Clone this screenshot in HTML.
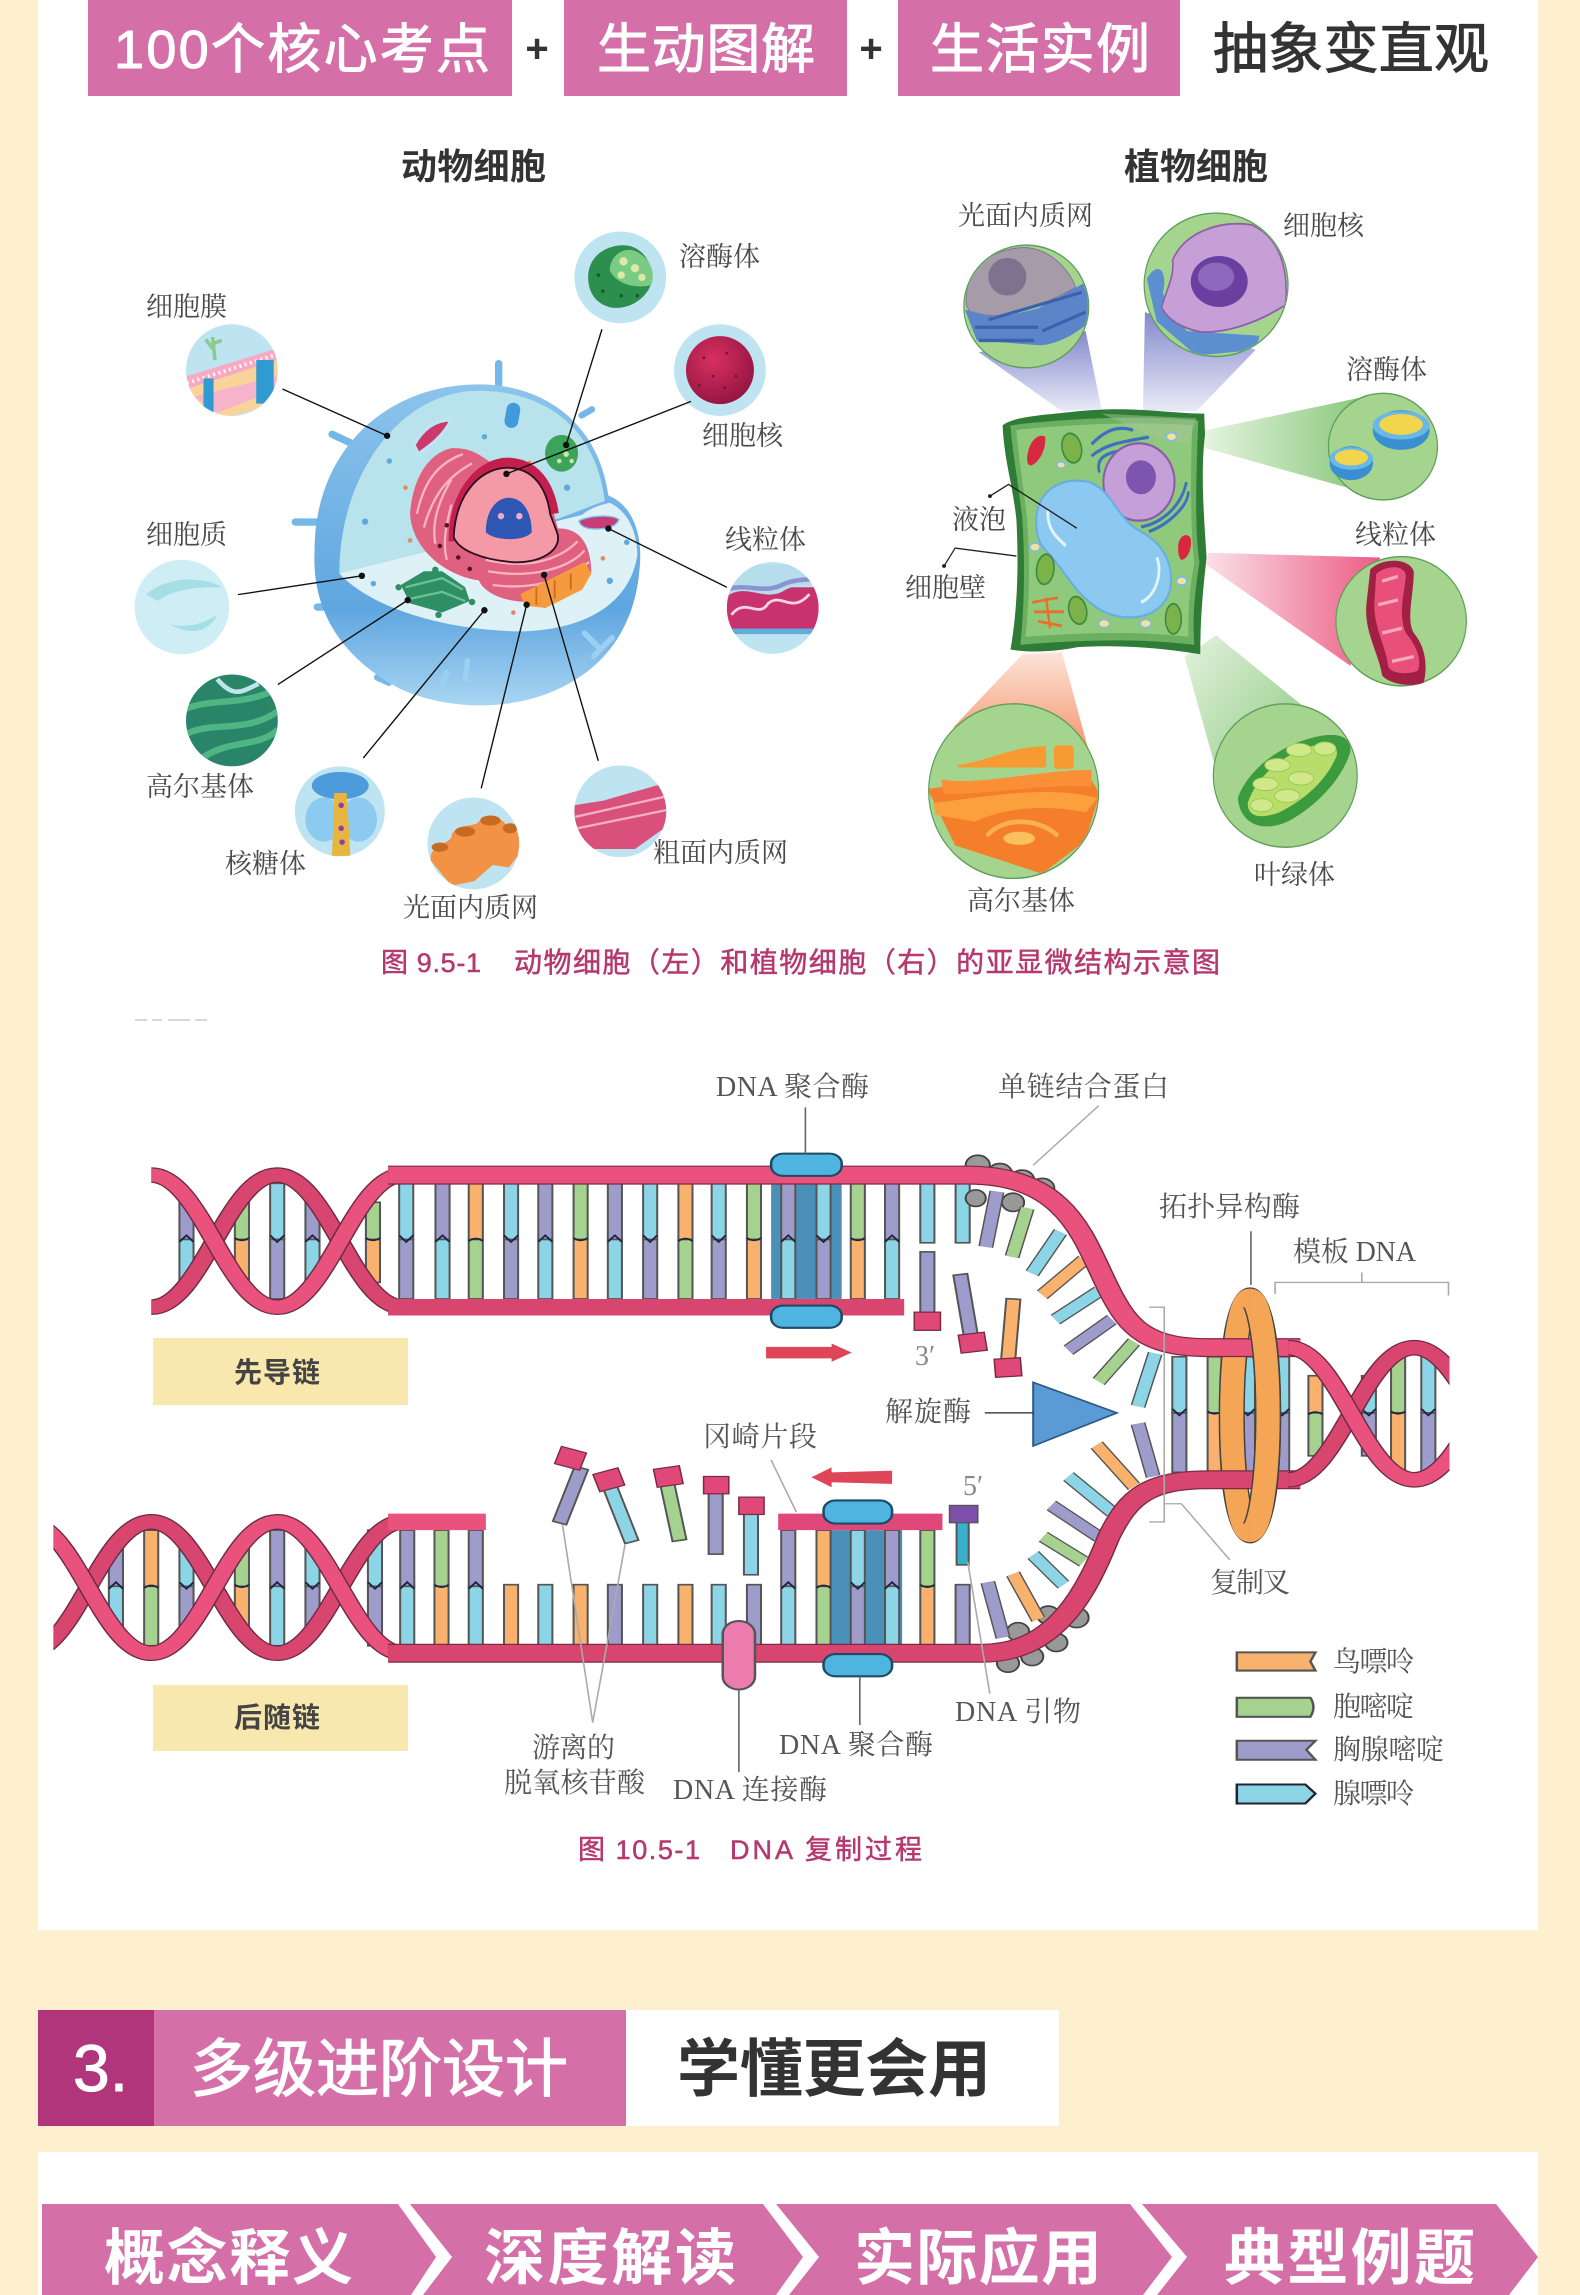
<!DOCTYPE html>
<html lang="zh"><head><meta charset="utf-8"><title>核心考点</title>
<style>
html,body{margin:0;padding:0;background:#FEEFCF}
svg{display:block}
.s{font-family:"Liberation Sans","Noto Sans CJK SC",sans-serif}
.l{font-family:"Liberation Serif","Noto Serif CJK SC",serif;fill:#4a4a4a;font-size:27px}
.d{font-family:"Liberation Serif","Noto Serif CJK SC",serif;fill:#555;font-size:28px}
.t{fill:#8CD5E6}.p{fill:#9E9CCB}.o{fill:#F9B26E}.g{fill:#A6D28F}
.b rect,.dr rect{stroke:#555;stroke-width:2}
.dr path{stroke:#1c2440;stroke-width:2;fill:none}
</style></head><body>
<svg xmlns="http://www.w3.org/2000/svg" width="1580" height="2295" viewBox="0 0 1580 2295">
<defs>
<linearGradient id="cb" x1="0" y1="0" x2="0" y2="1"><stop offset="0" stop-color="#8CC4EC"/><stop offset=".7" stop-color="#5FA6E0"/><stop offset="1" stop-color="#A9D5F2"/></linearGradient>
<linearGradient id="cone1" x1="0" y1="0" x2="0" y2="1"><stop offset="0" stop-color="#8489CC"/><stop offset="1" stop-color="#E9EAF7"/></linearGradient>
<linearGradient id="cone2" x1="1" y1="0" x2="0" y2="0"><stop offset="0" stop-color="#8CC97F"/><stop offset="1" stop-color="#E8F5E2"/></linearGradient>
<linearGradient id="cone3" x1="1" y1="0" x2="0" y2="0"><stop offset="0" stop-color="#EC5C84"/><stop offset="1" stop-color="#FBE0E8"/></linearGradient>
<linearGradient id="cone4" x1="1" y1="1" x2="0" y2="0"><stop offset="0" stop-color="#8CC97F"/><stop offset="1" stop-color="#E4F2DE"/></linearGradient>
<linearGradient id="cone5" x1="0" y1="1" x2="0" y2="0"><stop offset="0" stop-color="#F4946A"/><stop offset="1" stop-color="#FCE5DA"/></linearGradient>
<radialGradient id="ball" cx=".4" cy=".35" r=".75"><stop offset="0" stop-color="#D8305F"/><stop offset="1" stop-color="#8E1240"/></radialGradient>
<clipPath id="a1"><circle cx="222" cy="327" r="100"/></clipPath>
<clipPath id="a2"><circle cx="1400" cy="845" r="100"/></clipPath>
<clipPath id="a3"><circle cx="222" cy="1090" r="100"/></clipPath>
<clipPath id="a4"><circle cx="748" cy="1358" r="100"/></clipPath>
<clipPath id="a5"><circle cx="1068" cy="1288" r="100"/></clipPath>
<clipPath id="p1"><ellipse cx="370" cy="268" rx="156" ry="128"/></clipPath>
<clipPath id="p2"><ellipse cx="850" cy="222" rx="180" ry="150"/></clipPath>
<clipPath id="p3"><ellipse cx="338" cy="1295" rx="213" ry="183"/></clipPath>
<clipPath id="hl"><rect x="150" y="190" width="300" height="210"/></clipPath>
<clipPath id="hb"><rect x="53" y="610" width="400" height="210"/></clipPath>
<clipPath id="hr"><rect x="1270" y="400" width="168" height="200"/></clipPath>
<g id="tp" class="dr"><rect class="t" x="-7" y="222" width="14" height="68"/><rect class="p" x="-7" y="290" width="14" height="72"/><path d="M-7,285L0,293L7,285"/></g>
<g id="pt" class="dr"><rect class="p" x="-7" y="222" width="14" height="68"/><rect class="t" x="-7" y="290" width="14" height="72"/><path d="M-7,293L0,285L7,293"/></g>
<g id="go" class="dr"><rect class="g" x="-7" y="222" width="14" height="68"/><rect class="o" x="-7" y="290" width="14" height="72"/><path d="M-7,288Q0,294 7,288"/></g>
<g id="og" class="dr"><rect class="o" x="-7" y="222" width="14" height="68"/><rect class="g" x="-7" y="290" width="14" height="72"/><path d="M-7,292Q0,286 7,292"/></g>
<g id="stp" class="dr"><rect class="t" x="-7" y="245" width="14" height="45"/><rect class="p" x="-7" y="290" width="14" height="52"/><path d="M-7,285L0,293L7,285"/></g>
<g id="spt" class="dr"><rect class="p" x="-7" y="245" width="14" height="45"/><rect class="t" x="-7" y="290" width="14" height="52"/><path d="M-7,293L0,285L7,293"/></g>
<g id="sgo" class="dr"><rect class="g" x="-7" y="245" width="14" height="45"/><rect class="o" x="-7" y="290" width="14" height="52"/><path d="M-7,288Q0,294 7,288"/></g>
<g id="sog" class="dr"><rect class="o" x="-7" y="245" width="14" height="45"/><rect class="g" x="-7" y="290" width="14" height="52"/><path d="M-7,292Q0,286 7,292"/></g>
</defs>

<rect width="1580" height="2295" fill="#FEEFCF"/>
<rect x="38" y="0" width="1500" height="1930" fill="#fff"/>

<!-- top header -->
<rect x="88" y="0" width="424" height="96" fill="#D46FA8"/>
<rect x="564" y="0" width="283" height="96" fill="#D46FA8"/>
<rect x="898" y="0" width="282" height="96" fill="#D46FA8"/>

<!-- ANIMAL CELL -->
<g transform="translate(130 220) scale(.4591)">
<g fill="#BEE4F1">
<circle cx="1068" cy="125" r="100"/><circle cx="1285" cy="327" r="100"/><circle cx="222" cy="327" r="100"/><circle cx="1400" cy="845" r="100"/><circle cx="113" cy="843" r="103" fill="#CFEDF4"/><circle cx="222" cy="1090" r="100"/><circle cx="457" cy="1288" r="98"/><circle cx="748" cy="1358" r="100"/><circle cx="1068" cy="1288" r="100"/>
</g>
<!-- lysosome thumb -->
<path d="M998,130C995,85 1030,55 1075,55C1120,55 1145,105 1135,140C1120,180 1075,197 1045,190C1015,182 1000,160 998,130Z" fill="#2C8F4E"/>
<path d="M1045,110C1045,75 1080,55 1105,70C1135,85 1145,115 1135,142C1100,150 1060,140 1045,110Z" fill="#7CCB85"/>
<g fill="#DDE9A5"><circle cx="1075" cy="90" r="9"/><circle cx="1100" cy="105" r="9"/><circle cx="1070" cy="120" r="8"/><circle cx="1115" cy="125" r="8"/></g>
<g fill="#145c30"><circle cx="1020" cy="120" r="4"/><circle cx="1030" cy="155" r="4"/><circle cx="1070" cy="165" r="4"/><circle cx="1105" cy="165" r="4"/></g>
<!-- nucleus thumb -->
<circle cx="1285" cy="327" r="74" fill="url(#ball)"/>
<g fill="#701036"><circle cx="1250" cy="300" r="3"/><circle cx="1300" cy="290" r="3"/><circle cx="1270" cy="340" r="3"/><circle cx="1320" cy="340" r="3"/><circle cx="1240" cy="360" r="3"/><circle cx="1295" cy="365" r="3"/></g>
<!-- membrane thumb -->
<g clip-path="url(#a1)"><path d="M124,345L320,290V400L210,430L140,400Z" fill="#F8D49A"/><path d="M124,340L320,280V305L124,368Z" fill="#F8A9C4"/><path d="M140,385L320,340V370L190,420Z" fill="#F7B3CB"/><path d="M124,355L320,293" stroke="#fff" stroke-width="8" stroke-dasharray="4 8" fill="none"/><rect x="160" y="345" width="22" height="80" fill="#2F9BD0"/><rect x="275" y="305" width="38" height="95" fill="#2F9BD0"/><path d="M185,305L180,255M180,280L165,260M180,270L200,262" stroke="#8CCB90" stroke-width="8" fill="none"/></g>
<!-- mito thumb -->
<g clip-path="url(#a2)"><rect x="1300" y="800" width="200" height="100" fill="#C8336F"/><path d="M1300,820C1340,790 1380,830 1420,810C1450,790 1470,800 1500,790V750H1300Z" fill="#B5DDEC"/><path d="M1300,805C1340,790 1380,815 1420,795C1450,780 1480,785 1500,780" stroke="#8C93D0" stroke-width="10" fill="none"/><path d="M1310,860C1340,820 1370,870 1390,835C1420,810 1440,860 1480,815" stroke="#FAD4E0" stroke-width="6" fill="none"/><rect x="1300" y="890" width="200" height="12" fill="#5FAEDC"/></g>
<!-- cytoplasm thumb -->
<path d="M35,815C90,770 170,780 200,800C160,800 100,800 60,830ZM85,880C120,890 160,880 190,860C170,900 130,905 85,880Z" fill="#A6DEE6"/>
<!-- golgi thumb -->
<g clip-path="url(#a3)"><rect x="122" y="990" width="200" height="200" fill="#2A8468"/><path d="M122,1065C180,1040 250,1060 322,1020M122,1120C180,1090 250,1120 322,1070M160,1170C220,1130 280,1150 322,1110" stroke="#4FB583" stroke-width="14" fill="none"/><path d="M190,1000C225,1040 240,1030 280,1010" stroke="#BFE5EC" stroke-width="10" fill="none"/></g>
<!-- ribosome thumb -->
<ellipse cx="458" cy="1232" rx="62" ry="30" fill="#4E9BDC"/><ellipse cx="422" cy="1306" rx="40" ry="48" fill="#8CCBEF"/><ellipse cx="498" cy="1306" rx="40" ry="48" fill="#8CCBEF"/>
<path d="M445,1248H472L480,1385H440Z" fill="#E8B53F"/><g fill="#8E3FAE"><circle cx="460" cy="1275" r="6"/><circle cx="460" cy="1325" r="6"/><circle cx="462" cy="1355" r="6"/></g>
<!-- SER thumb -->
<g clip-path="url(#a4)"><path d="M655,1395C650,1365 690,1360 700,1345C700,1320 740,1320 755,1315C770,1295 810,1295 820,1320C850,1320 850,1350 845,1385L825,1410L790,1405L750,1440L700,1450Z" fill="#F39244"/><g fill="#C76A22"><ellipse cx="730" cy="1332" rx="22" ry="11"/><ellipse cx="785" cy="1308" rx="22" ry="11"/><ellipse cx="828" cy="1325" rx="16" ry="11"/><ellipse cx="675" cy="1366" rx="18" ry="10"/></g></g>
<!-- RER thumb -->
<g clip-path="url(#a5)"><path d="M965,1275L1030,1265L1170,1225V1320L1100,1370L1000,1370L965,1320Z" fill="#D9507C"/><path d="M970,1300L1170,1255M975,1325L1170,1285" stroke="#F3B0C6" stroke-width="5" fill="none"/></g>

<!-- main cell -->
<g fill="#74B8E8"><rect x="795" y="305" width="16" height="60" rx="8"/><rect x="430" y="468" width="60" height="16" rx="8" transform="rotate(25 460 476)"/><rect x="352" y="650" width="60" height="16" rx="8"/><rect x="400" y="835" width="55" height="16" rx="8"/><rect x="975" y="412" width="40" height="14" rx="7" transform="rotate(-30 995 419)"/><rect x="530" y="995" width="42" height="14" rx="7" transform="rotate(25 551 1002)"/></g>
<path d="M402,720C402,500 560,358 760,358C900,358 1020,440 1042,600C1092,620 1118,680 1110,760C1100,880 1040,985 900,1035C800,1070 680,1062 590,1022C470,960 395,860 402,720Z" fill="url(#cb)"/>
<path d="M456,770C520,748 900,665 985,642C1005,625 1030,620 1045,616C1085,635 1105,680 1105,730C1090,830 1000,893 850,896C700,895 530,850 456,770Z" fill="#DDF1F7"/>
<path d="M456,770L935,650L1034,612C1015,450 900,372 760,372C585,372 455,560 456,770Z" fill="#B8E2EC"/>
<path d="M618,490C640,450 670,435 700,435C685,470 650,495 628,510Z" fill="#CC3A6C" stroke="#BFE4F3" stroke-width="8"/>
<rect x="818" y="398" width="30" height="55" rx="15" fill="#3F9BDB" transform="rotate(10 833 425)"/>
<g fill="#5FA9DC"><circle cx="772" cy="472" r="6"/><circle cx="565" cy="525" r="6"/><circle cx="512" cy="657" r="7"/><circle cx="952" cy="583" r="7"/><circle cx="530" cy="792" r="6"/><circle cx="1045" cy="786" r="7"/><circle cx="1082" cy="702" r="6"/></g>
<g fill="#E8875A"><circle cx="600" cy="583" r="5"/><circle cx="610" cy="698" r="5"/><circle cx="1030" cy="737" r="5"/><circle cx="835" cy="855" r="5"/><circle cx="870" cy="528" r="4"/></g>
<!-- lysosome in cell -->
<ellipse cx="940" cy="508" rx="36" ry="40" fill="#3BA35A"/><g fill="#C8E7A0"><circle cx="950" cy="510" r="6"/><circle cx="935" cy="525" r="5"/><circle cx="962" cy="525" r="5"/></g>
<!-- mito -->
<path d="M978,655C1000,645 1045,640 1065,652C1060,670 1030,675 1000,672C990,670 980,665 978,655Z" fill="#C73D7A" stroke="#7EC0EC" stroke-width="3"/>
<!-- ER -->
<path d="M610,640C615,570 645,510 700,497C750,495 770,520 790,530C860,520 900,570 915,610L932,672C975,670 1003,700 1005,765C990,810 940,830 870,832C810,832 770,810 760,785C690,775 615,720 610,640Z" fill="#E0607F"/>
<path d="M625,640C640,570 670,530 725,510M640,670C660,600 690,560 745,530M665,705C655,650 680,600 700,565M690,740C680,700 690,660 700,620M780,765C860,780 950,765 990,720M790,795C860,805 950,790 1000,745M775,740C860,760 930,745 975,700" stroke="#F7B5C2" stroke-width="5" fill="none"/>
<path d="M706,700C705,590 770,525 830,530C890,535 915,590 922,640" stroke="#C21E4E" stroke-width="24" fill="none"/>
<g fill="#5c0f2c"><circle cx="690" cy="665" r="5"/><circle cx="675" cy="710" r="5"/><circle cx="715" cy="735" r="5"/><circle cx="740" cy="760" r="5"/></g>
<path d="M705,690C710,590 770,535 830,540C890,545 910,600 915,640L930,680C945,720 890,750 830,745C770,740 715,720 705,690Z" fill="#F49AA6" stroke="#2b1022" stroke-width="4"/>
<path d="M775,680C775,630 800,605 825,605C855,605 875,635 875,680C860,700 795,700 775,680Z" fill="#2E57B5"/><circle cx="808" cy="645" r="7" fill="#F0A8C5"/><circle cx="848" cy="645" r="7" fill="#F0A8C5"/>
<!-- SER orange -->
<path d="M850,815L990,745L1005,770L985,805L905,845L860,840Z" fill="#F59A3F"/>
<g stroke="#C96F1F" stroke-width="4"><path d="M885,800V838M925,785V825M960,770V805"/></g>
<!-- golgi -->
<path d="M590,795L640,765L680,765L730,800L740,830L680,855L610,835Z" fill="#2F8E63"/>
<path d="M600,800L680,780L725,805M610,825L680,810L730,830" stroke="#6BC096" stroke-width="5" fill="none"/>
<g fill="#2F8E63"><circle cx="585" cy="800" r="7"/><circle cx="665" cy="762" r="7"/><circle cx="745" cy="832" r="7"/><circle cx="672" cy="860" r="7"/></g>
<!-- floor bumps -->
<path d="M680,1010L690,985M730,1000L735,960M1020,930L990,900M1010,950L1050,910" stroke="#9AD0F2" stroke-width="12" stroke-linecap="round" fill="none"/>
<!-- connectors on top -->
<g stroke="#111" stroke-width="3" fill="none">
<path d="M332,368L560,470M1028,238L950,490M1222,395L820,553M235,816L505,775M1300,800L1042,672M322,1012L605,828M508,1172L772,850M765,1238L864,838M1020,1178L902,773"/>
</g>
<g fill="#111"><circle cx="560" cy="470" r="7"/><circle cx="950" cy="490" r="7"/><circle cx="820" cy="553" r="7"/><circle cx="505" cy="775" r="7"/><circle cx="1042" cy="672" r="7"/><circle cx="605" cy="828" r="7"/><circle cx="772" cy="850" r="7"/><circle cx="864" cy="838" r="7"/><circle cx="902" cy="773" r="7"/></g>
</g>

<!-- PLANT CELL -->
<g transform="translate(880 180) scale(.3954 .4719)">
<polygon points="250,365 520,320 560,485 460,490" fill="url(#cone1)"/>
<polygon points="670,280 950,360 800,490 665,490" fill="url(#cone1)"/>
<polygon points="1210,462 1195,655 810,565 815,532" fill="url(#cone2)"/>
<polygon points="1265,800 1190,1030 825,815 830,790" fill="url(#cone3)"/>
<polygon points="1070,1115 860,1280 770,1010 850,965" fill="url(#cone4)"/>
<polygon points="360,1005 460,1000 528,1210 185,1160" fill="url(#cone5)"/>
<g fill="#A5D48F" stroke="#5C9E5A" stroke-width="3">
<ellipse cx="370" cy="268" rx="158" ry="130"/><ellipse cx="850" cy="222" rx="182" ry="152"/><ellipse cx="1272" cy="565" rx="138" ry="113"/><ellipse cx="1318" cy="935" rx="165" ry="137"/><ellipse cx="1025" cy="1262" rx="182" ry="152"/><ellipse cx="338" cy="1295" rx="215" ry="185"/>
</g>
<!-- SER thumb -->
<g clip-path="url(#p1)"><path d="M218,265C212,190 280,143 370,143C440,148 485,200 495,228L400,268L300,288L230,285Z" fill="#A69BA8" stroke="#7E7490" stroke-width="2"/><ellipse cx="322" cy="205" rx="48" ry="40" fill="#7D7390"/><path d="M215,275L300,292L400,272L530,212V300C480,340 420,352 400,350L245,340Z" fill="#5B84C9"/><path d="M240,312H400M275,296L510,238M250,340H390M410,320L520,280" stroke="#3A62AE" stroke-width="7" fill="none"/></g>
<!-- Nucleus thumb -->
<g clip-path="url(#p2)"><path d="M675,210C700,170 730,190 715,240L775,320L960,330L950,360L800,372L700,300Z" fill="#5B8FD0"/><path d="M712,270C725,230 745,205 740,170C770,110 860,85 940,95C1010,120 1035,190 1025,265C960,300 880,325 810,322C770,315 730,300 712,270Z" fill="#C69FD6" stroke="#8E5FA6" stroke-width="4"/><ellipse cx="858" cy="215" rx="72" ry="54" fill="#6B3FA0"/><ellipse cx="850" cy="205" rx="46" ry="30" fill="#8D68BC"/></g>
<!-- Lysosome thumb -->
<ellipse cx="1318" cy="530" rx="72" ry="42" fill="#3A8FD0"/><ellipse cx="1318" cy="520" rx="72" ry="30" fill="#6AB8E8"/><ellipse cx="1318" cy="518" rx="55" ry="22" fill="#F3D54D"/>
<ellipse cx="1192" cy="600" rx="55" ry="36" fill="#3A8FD0"/><ellipse cx="1192" cy="590" rx="55" ry="24" fill="#6AB8E8"/><ellipse cx="1192" cy="588" rx="42" ry="17" fill="#F3D54D"/>
<!-- Mito thumb -->
<path d="M1240,825C1270,800 1340,800 1350,830C1350,880 1330,930 1350,960C1390,1000 1380,1050 1375,1065C1350,1075 1290,1070 1270,1050C1260,1000 1225,960 1230,900Z" fill="#A32045"/>
<path d="M1255,835C1280,815 1330,815 1330,840C1325,880 1310,920 1330,960C1360,990 1370,1020 1360,1040C1330,1050 1290,1045 1285,1030C1280,990 1250,950 1250,900Z" fill="#E8507A"/>
<g fill="none" stroke="#F6A8BC" stroke-width="7"><path d="M1270,850L1310,840M1260,900L1310,890M1270,960L1320,950M1295,1020L1350,1010"/></g>
<!-- Chloroplast thumb -->
<path d="M905,1310C920,1270 980,1210 1080,1185C1160,1165 1190,1180 1190,1210C1170,1270 1100,1330 1030,1360C960,1385 910,1360 905,1310Z" fill="#3C9B3F"/>
<path d="M930,1320C950,1270 1010,1220 1090,1200C1140,1190 1160,1200 1155,1220C1130,1270 1080,1310 1010,1340C960,1355 930,1350 930,1320Z" fill="#B9DD6B"/>
<g fill="#D1E88A" stroke="#9BC956" stroke-width="2"><ellipse cx="1060" cy="1208" rx="32" ry="14"/><ellipse cx="1125" cy="1205" rx="28" ry="14"/><ellipse cx="1005" cy="1240" rx="32" ry="14"/><ellipse cx="1065" cy="1268" rx="32" ry="14"/><ellipse cx="975" cy="1280" rx="32" ry="14"/><ellipse cx="1030" cy="1305" rx="32" ry="14"/><ellipse cx="965" cy="1325" rx="28" ry="14"/></g>
<!-- Golgi thumb -->
<g clip-path="url(#p3)"><path d="M120,1290L520,1250L555,1300L520,1400L410,1470L190,1410Z" fill="#F57E2A"/><path d="M195,1240C280,1230 330,1200 420,1200V1245H200Z" fill="#F89A32"/><rect x="440" y="1198" width="50" height="50" rx="8" fill="#F89A32"/><path d="M155,1270C250,1285 400,1250 535,1250V1285C400,1280 250,1305 160,1300Z" fill="#FA8F36"/><path d="M135,1320C250,1310 420,1280 550,1310L520,1340C400,1320 300,1335 240,1360L140,1345Z" fill="#FBA03D"/><path d="M270,1390C310,1350 400,1350 450,1390" stroke="#FBB04E" stroke-width="10" fill="none"/><ellipse cx="352" cy="1395" rx="40" ry="14" fill="#FBC05E"/></g>
<!-- cell -->
<path d="M310,520C340,500 420,498 500,490C640,478 730,495 820,495L822,540C810,620 820,720 826,800C815,880 810,940 810,1005C700,990 600,985 500,990C440,1000 380,1002 330,995C350,900 350,800 345,720C335,640 315,600 310,520Z" fill="#2E7C35"/>
<path d="M330,520C420,510 640,495 805,510C800,620 795,740 808,810C795,880 790,930 795,985C650,970 500,975 355,985C368,880 365,780 360,720C350,640 335,580 330,520Z" fill="#6BAF61"/>
<path d="M345,530C450,520 640,510 790,520C785,620 785,740 795,810C780,880 780,920 780,968C650,955 500,960 368,968C380,880 378,790 372,720C362,640 350,590 345,530Z" fill="#8FC97C"/>
<path d="M560,495L800,505L780,560L680,540Z" fill="#A8C59A" opacity=".5"/>
<!-- golgi/er in cell -->
<path d="M535,560C570,530 600,520 640,530M535,585C570,560 610,555 680,545M555,620C545,590 570,580 600,575M660,735C700,730 760,700 775,640M680,745C730,730 780,690 780,660" stroke="#3E6FC0" stroke-width="7" fill="none"/>
<ellipse cx="655" cy="640" rx="90" ry="82" fill="#C49FD8" stroke="#8A5DA8" stroke-width="5"/><ellipse cx="660" cy="630" rx="38" ry="36" fill="#7E55AE"/>
<!-- vacuole -->
<path d="M395,725C395,650 470,628 530,640C590,660 600,720 660,745C725,775 740,820 735,860C725,925 630,945 555,910C490,875 470,830 425,790C405,775 395,755 395,725Z" fill="#8CC9F0" stroke="#6AAEE0" stroke-width="5"/>
<path d="M425,700C420,740 450,760 470,775M700,800C715,830 700,880 660,895" stroke="#E4F4FD" stroke-width="7" fill="none"/>
<!-- small organelles -->
<path d="M372,590C375,550 405,535 418,545C420,575 400,600 382,605C375,605 372,600 372,590Z" fill="#D8283F"/>
<path d="M755,770C760,750 780,748 786,760C790,785 775,805 762,805C755,800 752,785 755,770Z" fill="#D8283F"/>
<g fill="#7BB34A" stroke="#3E8B3E" stroke-width="4"><ellipse cx="485" cy="568" rx="24" ry="32" transform="rotate(-20 485 568)"/><ellipse cx="418" cy="825" rx="22" ry="32" transform="rotate(10 418 825)"/><ellipse cx="500" cy="912" rx="22" ry="30" transform="rotate(-20 500 912)"/><ellipse cx="742" cy="930" rx="20" ry="32"/></g>
<g fill="#F3E29A" stroke="#7FBCE0" stroke-width="4"><ellipse cx="737" cy="544" rx="13" ry="9"/><ellipse cx="458" cy="604" rx="11" ry="7"/><ellipse cx="392" cy="778" rx="13" ry="9"/><ellipse cx="763" cy="850" rx="13" ry="9"/><ellipse cx="567" cy="940" rx="14" ry="9"/><ellipse cx="672" cy="940" rx="14" ry="9"/></g>
<g fill="none" stroke="#E8702A" stroke-width="6"><path d="M385,895L450,885M390,915L465,915M400,935L460,945M420,885L430,950"/></g>
<g fill="none" stroke="#222" stroke-width="3"><path d="M498,738L325,645L278,670M345,797L190,780L162,818"/></g>
<ellipse cx="278" cy="670" rx="5" ry="4" fill="#222"/><ellipse cx="162" cy="818" rx="5" ry="4" fill="#222"/>
</g>

<!-- DNA diagram drawn in scaled coordinates -->
<g transform="translate(0 1000) scale(1.008 .8258)">
<rect x="765" y="222" width="70" height="140" fill="#4A90B8"/>
<rect x="824" y="642" width="71" height="139" fill="#4A90B8"/>
<g class="b">
<!-- top left helix bases -->
<use href="#spt" x="185"/><use href="#sgo" x="240"/><use href="#tp" x="275"/><use href="#spt" x="310"/><use href="#sgo" x="370"/>
<use href="#tp" x="403"/><use href="#pt" x="439"/><use href="#og" x="472"/><use href="#tp" x="507"/><use href="#pt" x="541"/><use href="#go" x="576"/><use href="#pt" x="610"/><use href="#tp" x="645"/><use href="#og" x="680"/><use href="#tp" x="713"/><use href="#go" x="748"/><use href="#pt" x="782"/><use href="#tp" x="817"/><use href="#go" x="851"/><use href="#pt" x="885"/>
<rect class="t" x="913" y="222" width="14" height="72"/><rect class="t" x="948" y="222" width="14" height="72"/>
<rect class="p" x="913" y="305" width="14" height="75"/>
<g transform="rotate(-8 958 370)"><rect class="p" x="951" y="332" width="14" height="75"/></g>
<g transform="rotate(4 1003 395)"><rect class="o" x="996" y="362" width="14" height="75"/></g>
<!-- right bases -->
<use href="#tp" x="1170" y="210"/><use href="#go" x="1205" y="210"/><use href="#tp" x="1238" y="210"/><use href="#tp" x="1272" y="210"/><use href="#sog" x="1305" y="210"/><use href="#stp" x="1358" y="210"/><use href="#go" x="1387" y="210"/><use href="#tp" x="1417" y="210"/>
<!-- bottom left -->
<use href="#spt" x="115" y="420"/><use href="#og" x="150" y="420"/><use href="#stp" x="185" y="420"/><use href="#sgo" x="240" y="420"/><use href="#pt" x="275" y="420"/><use href="#stp" x="310" y="420"/>
<use href="#tp" x="372" y="420"/><use href="#pt" x="404" y="420"/><use href="#go" x="438" y="420"/><use href="#pt" x="472" y="420"/>
<rect class="o" x="500" y="708" width="14" height="73"/><rect class="t" x="534" y="708" width="14" height="73"/><rect class="o" x="569" y="708" width="14" height="73"/><rect class="p" x="603" y="708" width="14" height="73"/><rect class="t" x="638" y="708" width="14" height="73"/><rect class="o" x="673" y="708" width="14" height="73"/><rect class="t" x="706" y="708" width="14" height="73"/><rect class="p" x="741" y="708" width="14" height="73"/>
<use href="#pt" x="782" y="420"/><use href="#og" x="817" y="420"/><use href="#tp" x="851" y="420"/><use href="#pt" x="885" y="420"/><use href="#go" x="920" y="420"/>
<rect class="p" x="948" y="708" width="14" height="73"/>
<rect x="949" y="632" width="12" height="52" fill="#3AB1CC"/>
<!-- free nucleotides -->
<g transform="rotate(18 566 600)"><rect class="p" x="559" y="565" width="14" height="70"/></g>
<g transform="rotate(-18 615 620)"><rect class="t" x="608" y="590" width="14" height="68"/></g>
<g transform="rotate(-10 668 620)"><rect class="g" x="661" y="587" width="14" height="68"/></g>
<rect class="p" x="703" y="597" width="14" height="74"/>
<rect class="t" x="738" y="622" width="14" height="74"/>
</g>
<g fill="#E0487A" stroke="#7a2a45" stroke-width="1.5">
<rect x="907" y="378" width="26" height="22"/><rect x="952" y="404" width="26" height="22" transform="rotate(-8 965 415)"/><rect x="987" y="434" width="26" height="22" transform="rotate(-4 1000 445)"/>
<rect x="553" y="544" width="26" height="22" transform="rotate(18 566 555)"/><rect x="591" y="570" width="26" height="22" transform="rotate(-18 604 581)"/><rect x="650" y="566" width="26" height="22" transform="rotate(-10 663 577)"/><rect x="698" y="577" width="25" height="21"/><rect x="733" y="602" width="25" height="21"/>
</g>
<rect x="942" y="612" width="28" height="21" fill="#7D4FA8" stroke="#555" stroke-width="1.5"/>

<!-- SSB -->
<g fill="#999" stroke="#444" stroke-width="2"><circle cx="970" cy="200" r="12"/><circle cx="992" cy="210" r="12"/><circle cx="1014" cy="218" r="12"/><circle cx="1034" cy="228" r="12"/><circle cx="968" cy="240" r="10"/><circle cx="1005" cy="245" r="11"/>
<circle cx="1000" cy="803" r="11"/><circle cx="1024" cy="795" r="11"/><circle cx="1048" cy="778" r="11"/><circle cx="1068" cy="748" r="12"/><circle cx="1010" cy="765" r="11"/><circle cx="1040" cy="745" r="11"/></g>
<!-- fork teeth -->
<g stroke="#555" stroke-width="15" fill="none"><path d="M989,232L978,299M1019,252L1004,311M1052,281L1024,331M1075,315L1034,357M1090,353L1047,387M1103,387L1060,424M1125,414L1090,462M1146,428L1129,492M1144,577L1129,513M1125,589L1088,539M1103,620L1060,577M1090,650L1043,612M1075,680L1035,650M1055,708L1025,672M1030,750L1005,695M995,772L980,705"/></g>
<g stroke-width="12" fill="none">
<path d="M989,232L978,299" stroke="#9E9CCB"/><path d="M1019,252L1004,311" stroke="#A6D28F"/><path d="M1052,281L1024,331" stroke="#8CD5E6"/><path d="M1075,315L1034,357" stroke="#F9B26E"/><path d="M1090,353L1047,387" stroke="#8CD5E6"/><path d="M1103,387L1060,424" stroke="#9E9CCB"/><path d="M1125,414L1090,462" stroke="#A6D28F"/><path d="M1146,428L1129,492" stroke="#8CD5E6"/><path d="M1144,577L1129,513" stroke="#9E9CCB"/><path d="M1125,589L1088,539" stroke="#F9B26E"/><path d="M1103,620L1060,577" stroke="#8CD5E6"/><path d="M1090,650L1043,612" stroke="#9E9CCB"/><path d="M1075,680L1035,650" stroke="#A6D28F"/><path d="M1055,708L1025,672" stroke="#8CD5E6"/><path d="M1030,750L1005,695" stroke="#F9B26E"/><path d="M995,772L980,705" stroke="#9E9CCB"/>
</g>

<!-- ring back -->
<ellipse cx="1240" cy="503" rx="18" ry="142" fill="none" stroke="#444" stroke-width="26"/>
<ellipse cx="1240" cy="503" rx="18" ry="142" fill="none" stroke="#F4A555" stroke-width="23"/>

<!-- strands -->
<g fill="none" stroke-linecap="butt">
<g clip-path="url(#hl)"><path d="M150,372C200,372 225,212 275,212C325,212 350,372 400,372" stroke="#6b2a44" stroke-width="19"/><path d="M150,372C200,372 225,212 275,212C325,212 350,372 400,372" stroke="#D8466F" stroke-width="16"/><path d="M150,212C200,212 225,372 275,372C325,372 350,212 400,212" stroke="#6b2a44" stroke-width="19"/><path d="M150,212C200,212 225,372 275,372C325,372 350,212 400,212" stroke="#E8527C" stroke-width="16"/></g>
<g clip-path="url(#hb)"><path d="M25,791C75,791 100,632 150,632C200,632 225,791 275,791C325,791 350,632 400,632" stroke="#6b2a44" stroke-width="19"/><path d="M25,791C75,791 100,632 150,632C200,632 225,791 275,791C325,791 350,632 400,632" stroke="#D8466F" stroke-width="16"/><path d="M25,632C75,632 100,791 150,791C200,791 225,632 275,632C325,632 350,791 400,791" stroke="#6b2a44" stroke-width="19"/><path d="M25,632C75,632 100,791 150,791C200,791 225,632 275,632C325,632 350,791 400,791" stroke="#E8527C" stroke-width="16"/></g>
<path d="M385,212H960C1060,212 1075,290 1100,350C1120,400 1140,421 1200,421H1290" stroke="#7a2a45" stroke-width="23"/>
<path d="M385,212H960C1060,212 1075,290 1100,350C1120,400 1140,421 1200,421H1290" stroke="#E8527C" stroke-width="20"/>
<path d="M385,372H897" stroke="#D8466F" stroke-width="20"/>
<path d="M385,632H482" stroke="#E8527C" stroke-width="20"/>
<path d="M385,791H975C1050,791 1080,710 1100,650C1120,600 1140,581 1200,581H1290" stroke="#7a2a45" stroke-width="23"/>
<path d="M385,791H975C1050,791 1080,710 1100,650C1120,600 1140,581 1200,581H1290" stroke="#D8466F" stroke-width="20"/>
<path d="M772,632H935" stroke="#E0487A" stroke-width="20"/>
<g clip-path="url(#hr)"><path d="M1278,581C1328,581 1353,421 1403,421C1453,421 1478,581 1528,581" stroke="#6b2a44" stroke-width="19"/><path d="M1278,581C1328,581 1353,421 1403,421C1453,421 1478,581 1528,581" stroke="#D8466F" stroke-width="16"/><path d="M1278,421C1328,421 1353,581 1403,581C1453,581 1478,421 1528,421" stroke="#6b2a44" stroke-width="19"/><path d="M1278,421C1328,421 1353,581 1403,581C1453,581 1478,421 1528,421" stroke="#E8527C" stroke-width="16"/></g>
</g>
<!-- ring front right half -->
<path d="M1240,361A18,142 0 0 1 1240,645" fill="none" stroke="#444" stroke-width="26"/>
<path d="M1240,361A18,142 0 0 1 1240,645" fill="none" stroke="#F4A555" stroke-width="23"/>

<!-- polymerases -->
<g fill="#4FB5E0" stroke="#1d4a66" stroke-width="2.5">
<rect x="765" y="186" width="70" height="27" rx="12"/><rect x="765" y="370" width="70" height="27" rx="12"/><rect x="817" y="606" width="68" height="28" rx="12"/><rect x="817" y="792" width="68" height="27" rx="12"/>
</g>
<rect x="717" y="752" width="32" height="83" rx="16" fill="#EC7CAE" stroke="#555" stroke-width="2.5"/>
<!-- helicase -->
<path d="M1025,463L1108,500L1025,540Z" fill="#5B9BD5" stroke="#2c5a86" stroke-width="2"/>
<path d="M977,500H1025" stroke="#222" stroke-width="1.5"/>
<!-- red arrows -->
<path d="M760,420H825V416L845,427L825,438V434H760Z" fill="#DE4557"/>
<path d="M885,570V586L825,584V590L805,578L825,566V572Z" fill="#DE4557"/>
<!-- connectors -->
<g fill="none" stroke="#666" stroke-width="1.6">
<path d="M799,130V186M853,819V878M733,835V935M1241,280V345"/>
</g>
<g fill="none" stroke="#aaa" stroke-width="1.6">
<path d="M1090,128L1025,200M1265,356V342H1437V358M1351,330V342M1140,372H1155V632H1140M1155,610H1172L1220,678M765,557L790,620M960,680L982,840M558,635L588,875M620,660L588,875"/>
</g>
<!-- legend -->
<g stroke="#555" stroke-width="2.5">
<path d="M1227,790H1305L1300,801L1305,812H1227Z" fill="#F9B26E"/>
<path d="M1227,845H1300Q1306,856 1300,868H1227Z" fill="#A6D28F"/>
<path d="M1227,897H1305L1296,908L1305,920H1227Z" fill="#9E9CCB"/>
<path d="M1227,950H1295L1305,961L1295,973H1227Z" fill="#8CD5E6" stroke="#223"/>
</g>
</g>
<rect x="153" y="1338" width="255" height="67" fill="#F8E8AE"/>
<rect x="153" y="1685" width="255" height="66" fill="#F8E8AE"/>
<path d="M135,1020h12M152,1020h10M168,1020h22M195,1020h12" stroke="#ccc" stroke-width="1.5"/>

<!-- TEXT -->
<g class="s" fill="#fff" font-size="54" stroke="#fff" stroke-width="1">
<text x="114" y="68" textLength="376">100个核心考点</text>
<text x="597" y="68" textLength="218">生动图解</text>
<text x="930" y="68" textLength="220">生活实例</text>
</g>
<text class="s" x="1213" y="68" font-size="55" fill="#333" stroke="#333" stroke-width="1" textLength="276">抽象变直观</text>
<text class="s" x="537" y="62" font-size="40" font-weight="bold" fill="#333" text-anchor="middle">+</text>
<text class="s" x="871" y="62" font-size="40" font-weight="bold" fill="#333" text-anchor="middle">+</text>
<text class="s" x="401" y="179" font-size="36" font-weight="bold" fill="#333" textLength="145">动物细胞</text>
<text class="s" x="1124" y="179" font-size="36" font-weight="bold" fill="#333" textLength="144">植物细胞</text>
<g class="l">
<text x="146" y="316">细胞膜</text><text x="679" y="266">溶酶体</text><text x="702" y="445">细胞核</text><text x="725" y="549">线粒体</text><text x="146" y="544">细胞质</text><text x="146" y="796">高尔基体</text><text x="225" y="873">核糖体</text><text x="403" y="917">光面内质网</text><text x="653" y="862">粗面内质网</text>
<text x="958" y="225">光面内质网</text><text x="1283" y="235">细胞核</text><text x="1346" y="379">溶酶体</text><text x="1355" y="544">线粒体</text><text x="1254" y="884">叶绿体</text><text x="967" y="910">高尔基体</text><text x="952" y="529">液泡</text><text x="905" y="597">细胞壁</text>
</g>
<g class="s" fill="#B5396F" stroke="#B5396F" stroke-width=".5">
<text x="381" y="972" font-size="27" textLength="100">图 9.5-1</text>
<text x="514" y="972" font-size="28" textLength="706">动物细胞（左）和植物细胞（右）的亚显微结构示意图</text>
<text x="578" y="1859" font-size="27" textLength="122">图 10.5-1</text>
<text x="730" y="1859" font-size="27" textLength="192">DNA 复制过程</text>
</g>
<g class="d">
<text x="716" y="1096" textLength="153">DNA 聚合酶</text><text x="998" y="1096" textLength="171">单链结合蛋白</text><text x="1159" y="1216" textLength="141">拓扑异构酶</text><text x="1293" y="1261" textLength="123">模板 DNA</text><text x="885" y="1421" textLength="86">解旋酶</text><text x="703" y="1446" textLength="114">冈崎片段</text><text x="1210" y="1592" textLength="80">复制叉</text><text x="1333" y="1671" textLength="81">鸟嘌呤</text><text x="1333" y="1716" textLength="81">胞嘧啶</text><text x="1333" y="1759" textLength="111">胸腺嘧啶</text><text x="1333" y="1803" textLength="81">腺嘌呤</text><text x="955" y="1721" textLength="126">DNA 引物</text><text x="779" y="1754" textLength="154">DNA 聚合酶</text><text x="673" y="1799" textLength="154">DNA 连接酶</text><text x="532" y="1757" textLength="83">游离的</text><text x="504" y="1792" textLength="141">脱氧核苷酸</text>
<text x="915" y="1365" fill="#888">3′</text><text x="963" y="1495" fill="#888">5′</text>
</g>
<text class="s" x="234" y="1382" font-size="28" font-weight="bold" fill="#444" textLength="86">先导链</text>
<text class="s" x="234" y="1727" font-size="28" font-weight="bold" fill="#444" textLength="86">后随链</text>

<!-- SECTION 3 -->
<rect x="38" y="2010" width="116" height="116" fill="#B0357A"/>
<rect x="154" y="2010" width="472" height="116" fill="#D46FA8"/>
<rect x="626" y="2010" width="433" height="116" fill="#fff"/>
<text class="s" x="73" y="2091" font-size="66" fill="#fff" stroke="#fff" stroke-width="1">3.</text>
<text class="s" x="190" y="2091" font-size="63" fill="#fff" stroke="#fff" stroke-width="1.2" textLength="378">多级进阶设计</text>
<text class="s" x="677" y="2091" font-size="63" fill="#333" font-weight="bold" textLength="314">学懂更会用</text>
<rect x="38" y="2152" width="1500" height="143" fill="#fff"/>
<g fill="#D46FA8">
<polygon points="42,2204 398,2204 436,2257 411,2295 42,2295"/>
<polygon points="410,2204 763,2204 803,2257 776,2295 423,2295 452,2257"/>
<polygon points="776,2204 1130,2204 1172,2257 1143,2295 789,2295 819,2257"/>
<polygon points="1142,2204 1496,2204 1538,2257 1509,2295 1157,2295 1187,2257"/>
</g>
<g class="s" fill="#fff" font-size="61" font-weight="bold">
<text x="104" y="2279" textLength="249">概念释义</text>
<text x="484" y="2279" textLength="252">深度解读</text>
<text x="854" y="2279" textLength="248">实际应用</text>
<text x="1224" y="2279" textLength="251">典型例题</text>
</g>
</svg>
</body></html>
